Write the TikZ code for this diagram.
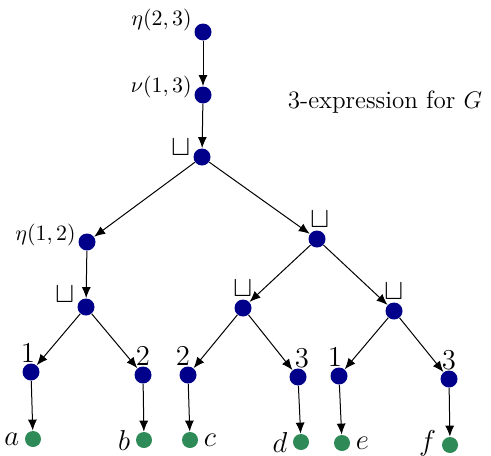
\documentclass[tikz,border=0pt]{standalone}
\usepackage{amsmath}
\usepackage{amssymb}
\usepackage{tikz}
\usetikzlibrary{arrows.meta, positioning}
\definecolor{cNavy}{RGB}{0,0,139}
\definecolor{cLeaf}{RGB}{46,139,87}
\tikzset{
	opnode/.style  ={circle, fill=cNavy, minimum size=8.5pt, inner sep=0pt},
	leafnode/.style={circle, fill=cLeaf, minimum size=8pt, inner sep=0pt},
	treearrow/.style={-{Latex[length=5.5pt, width=4.5pt]}, line width=0.5pt},
	every label/.style={inner sep=1pt},
}
\begin{document}
\begin{tikzpicture}[x=0.5pt, y=-0.5pt,
					lblop/.style={font=\fontsize{11}{13}\selectfont},
					lblcup/.style={font=\fontsize{14}{16}\selectfont},
					lbldig/.style={font=\Large, label distance=-1pt},
					lblleaf/.style={font=\fontsize{14}{16}\selectfont, label distance=1.5pt}]
					\useasboundingbox (0,0) rectangle (491,455);
					% operations
					\node[opnode, label={[lblop, yshift=6pt]left:$\eta(2,3)$}] (eta23) at (203,32) {};
					\node[opnode, label={[lblop, yshift=4pt]left:$\nu(1,3)$}] (nu13) at (203,95) {};
					\node[opnode, label={[lblcup, yshift=5pt]left:$\sqcup$}] (u0) at (202,157) {};
					\node[opnode, label={[lblop, yshift=3.5pt]left:$\eta(1,2)$}] (eta12) at (87,242) {};
					\node[opnode, label={[lblcup, xshift=1.5pt, label distance=0pt]above:$\sqcup$}] (u1) at (317,239) {};
					\node[opnode, label={[lblcup, yshift=6.5pt]left:$\sqcup$}] (u2) at (86,307) {};
					\node[opnode, label={[lblcup, label distance=0pt]above:$\sqcup$}] (u3) at (243,308) {};
					\node[opnode, label={[lblcup, label distance=0pt]above:$\sqcup$}] (u4) at (394,311) {};
					% labels
					\node[opnode, label={[lbldig, xshift=-1.5pt]above:1}] (r1) at (31,372) {};
					\node[opnode, label={[lbldig]above:2}] (r2) at (143,375) {};
					\node[opnode, label={[lbldig, xshift=-2.5pt]above:2}] (r3) at (188,375) {};
					\node[opnode, label={[lbldig, xshift=2pt]above:3}] (r4) at (298,377) {};
					\node[opnode, label={[lbldig, xshift=-2pt]above:1}] (r5) at (339,376) {};
					\node[opnode, label={[lbldig]above:3}] (r6) at (449,379) {};
					% vertices
					\node[leafnode, label={[lblleaf]left:$a$}] (va) at (33,439) {};
					\node[leafnode, label={[lblleaf]left:$b$}] (vb) at (144,440) {};
					\node[leafnode, label={[lblleaf]right:$c$}] (vc) at (190,440) {};
					\node[leafnode, label={[lblleaf]left:$d$}] (vd) at (301,442) {};
					\node[leafnode, label={[lblleaf]right:$e$}] (ve) at (342,443) {};
					\node[leafnode, label={[lblleaf, yshift=1pt]left:$f$}] (vf) at (450,445) {};
					\node[font=\fontsize{12.5}{15}\selectfont] (title) at (385,102) {3-expression for $G$};
					\draw[treearrow] (eta23) -- (nu13); \draw[treearrow] (nu13) -- (u0);
					\draw[treearrow] (u0) -- (eta12); \draw[treearrow] (u0) -- (u1);
					\draw[treearrow] (eta12) -- (u2);
					\draw[treearrow] (u1) -- (u3); \draw[treearrow] (u1) -- (u4);
					\draw[treearrow] (u2) -- (r1); \draw[treearrow] (u2) -- (r2);
					\draw[treearrow] (u3) -- (r3); \draw[treearrow] (u3) -- (r4);
					\draw[treearrow] (u4) -- (r5); \draw[treearrow] (u4) -- (r6);
					\draw[treearrow] (r1) -- (va); \draw[treearrow] (r2) -- (vb); \draw[treearrow] (r3) -- (vc);
					\draw[treearrow] (r4) -- (vd); \draw[treearrow] (r5) -- (ve); \draw[treearrow] (r6) -- (vf);
				\end{tikzpicture}
\end{document}
